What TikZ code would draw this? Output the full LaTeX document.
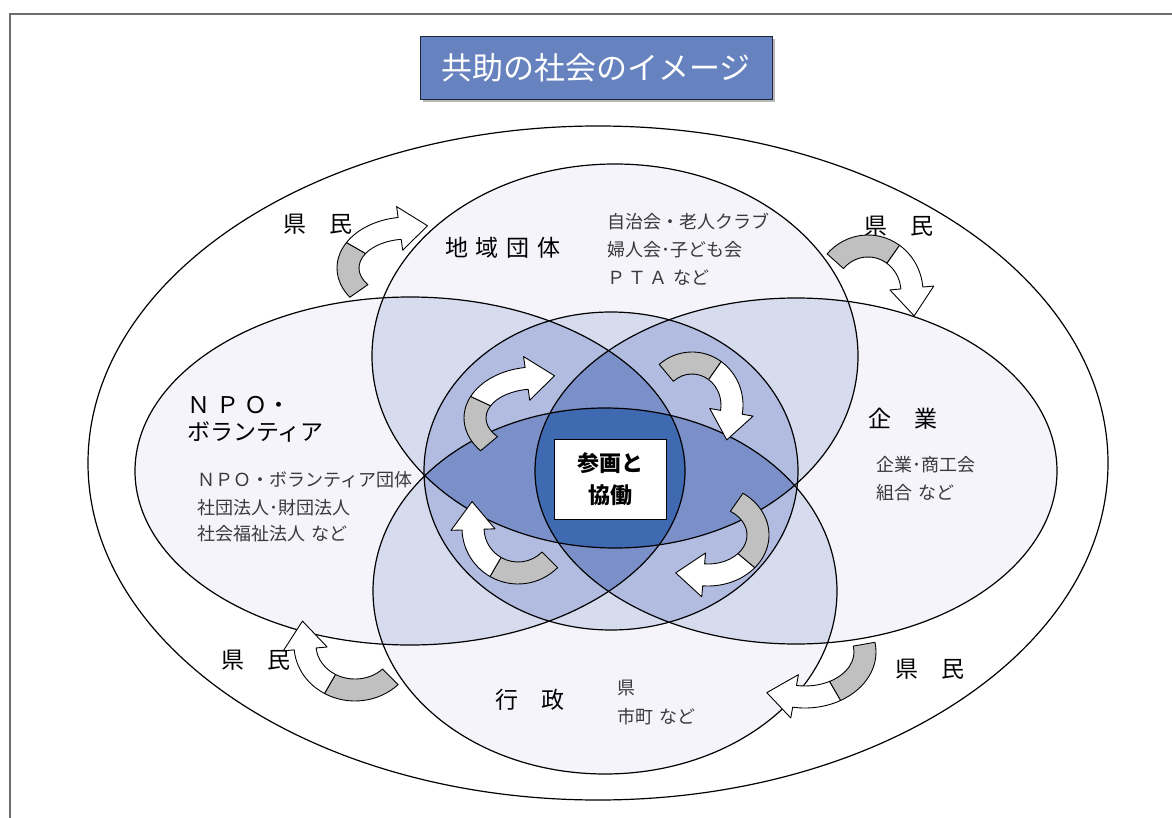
\documentclass[tikz,border=0pt]{standalone}
\usepackage{fontspec}
\setmainfont{Noto Sans CJK JP}
\definecolor{lvone}{HTML}{F4F4FA}
\definecolor{lvtwo}{HTML}{D6DBEE}
\definecolor{lvthree}{HTML}{B1BCE0}
\definecolor{lvfour}{HTML}{7B90C8}
\definecolor{lvfive}{HTML}{3F69B1}
\definecolor{titlefill}{HTML}{6683C0}
\definecolor{titleline}{HTML}{1F2638}
\definecolor{framegray}{HTML}{6E6E6E}
\definecolor{backgray}{HTML}{C0C0C0}
\definecolor{desc}{HTML}{3A3A3A}
\def\shT{(615,356) ellipse [x radius=243, y radius=192]}
\def\shB{(605,591) ellipse [x radius=232, y radius=183]}
\def\shL{(410,471) ellipse [x radius=275, y radius=174]}
\def\shR{(796,471) ellipse [x radius=261, y radius=173]}
\def\shC{(611,471) ellipse [x radius=187, y radius=159]}
\newcommand\regtwo[3]{\begin{scope}\clip #2;\fill[#1] #3;\end{scope}}
\newcommand\regthree[4]{\begin{scope}\clip #2;\clip #3;\fill[#1] #4;\end{scope}}
\newcommand\regfour[5]{\begin{scope}\clip #2;\clip #3;\clip #4;\fill[#1] #5;\end{scope}}
\newcommand\regfive[6]{\begin{scope}\clip #2;\clip #3;\clip #4;\clip #5;\fill[#1] #6;\end{scope}}
% curved block arrow: cx, cy, rx, ry, tail angle, colour change angle, head angle
\newcommand{\curvarrow}[7]{%
 \pgfmathsetmacro{\caXo}{#3+11}\pgfmathsetmacro{\caYo}{#4+11}%
 \pgfmathsetmacro{\caXi}{#3-11}\pgfmathsetmacro{\caYi}{#4-11}%
 \pgfmathsetmacro{\caXh}{#3+22}\pgfmathsetmacro{\caYh}{#4+22}%
 \pgfmathsetmacro{\caXk}{#3-22}\pgfmathsetmacro{\caYk}{#4-22}%
 \pgfmathsetmacro{\caTx}{-#3*sin(#7)}\pgfmathsetmacro{\caTy}{#4*cos(#7)}%
 \pgfmathsetmacro{\caTn}{sqrt(\caTx*\caTx+\caTy*\caTy)}%
 \pgfmathsetmacro{\caPx}{#1+#3*cos(#7)+28*\caTx/\caTn}%
 \pgfmathsetmacro{\caPy}{#2+#4*sin(#7)+28*\caTy/\caTn}%
 \filldraw[arrback] ({#1+\caXo*cos(#5)},{#2+\caYo*sin(#5)})
   arc[start angle=#5,end angle=#6,x radius=\caXo,y radius=\caYo]
   -- ({#1+\caXi*cos(#6)},{#2+\caYi*sin(#6)})
   arc[start angle=#6,end angle=#5,x radius=\caXi,y radius=\caYi] -- cycle;
 \filldraw[arrfront] ({#1+\caXo*cos(#6)},{#2+\caYo*sin(#6)})
   arc[start angle=#6,end angle=#7,x radius=\caXo,y radius=\caYo]
   -- ({#1+\caXh*cos(#7)},{#2+\caYh*sin(#7)})
   -- (\caPx,\caPy)
   -- ({#1+\caXk*cos(#7)},{#2+\caYk*sin(#7)})
   -- ({#1+\caXi*cos(#7)},{#2+\caYi*sin(#7)})
   arc[start angle=#7,end angle=#6,x radius=\caXi,y radius=\caYi] -- cycle;
}
\tikzset{
 outl/.style={draw=black, line width=1.2pt},
 arrback/.style={fill=backgray, draw=black, line width=0.9pt, line join=round},
 arrfront/.style={fill=white, draw=black, line width=0.9pt, line join=round},
 lbl/.style={font=\fontsize{23}{26}\selectfont, text=black, inner sep=0pt},
 dsc/.style={font=\fontsize{18}{22}\selectfont, text=desc, inner sep=0pt, anchor=west},
}
\begin{document}
\begin{tikzpicture}[x=1pt, y=-1pt]
\useasboundingbox (0,0) rectangle (1172,818);
\fill[white] (0,0) rectangle (1172,818);
% frame
\draw[framegray, line width=2pt] (10,818) -- (10,14) -- (1172,14);
% title
\fill[gray!55] (423,39) rectangle (775,102);
\node[draw=titleline, fill=titlefill, line width=0.9pt, minimum width=352pt, minimum height=63pt, inner sep=0pt, text=white, font=\fontsize{31}{34}\selectfont] (title) at (596,67.5) {共助の社会のイメージ};
% outer ellipse
\draw[outl, fill=white] (598,463) ellipse [x radius=510, y radius=337];
% level 1
\fill[lvone] \shT; \fill[lvone] \shB; \fill[lvone] \shL; \fill[lvone] \shR;
% level 2
\regtwo{lvtwo}{\shT}{\shB} \regtwo{lvtwo}{\shT}{\shL} \regtwo{lvtwo}{\shT}{\shR}
\regtwo{lvtwo}{\shT}{\shC} \regtwo{lvtwo}{\shB}{\shL} \regtwo{lvtwo}{\shB}{\shR}
\regtwo{lvtwo}{\shB}{\shC} \regtwo{lvtwo}{\shL}{\shR} \regtwo{lvtwo}{\shL}{\shC}
\regtwo{lvtwo}{\shR}{\shC}
% level 3
\regthree{lvthree}{\shT}{\shB}{\shL} \regthree{lvthree}{\shT}{\shB}{\shR}
\regthree{lvthree}{\shT}{\shB}{\shC} \regthree{lvthree}{\shT}{\shL}{\shR}
\regthree{lvthree}{\shT}{\shL}{\shC} \regthree{lvthree}{\shT}{\shR}{\shC}
\regthree{lvthree}{\shB}{\shL}{\shR} \regthree{lvthree}{\shB}{\shL}{\shC}
\regthree{lvthree}{\shB}{\shR}{\shC} \regthree{lvthree}{\shL}{\shR}{\shC}
% level 4
\regfour{lvfour}{\shT}{\shB}{\shL}{\shR} \regfour{lvfour}{\shT}{\shB}{\shL}{\shC}
\regfour{lvfour}{\shT}{\shB}{\shR}{\shC} \regfour{lvfour}{\shT}{\shL}{\shR}{\shC}
\regfour{lvfour}{\shB}{\shL}{\shR}{\shC}
% level 5
\regfive{lvfive}{\shT}{\shB}{\shL}{\shR}{\shC}
% outlines
\draw[outl] \shT; \draw[outl] \shB; \draw[outl] \shL; \draw[outl] \shR; \draw[outl] \shC;
% labels
\node[lbl] (kenTL) at (318,224) {県　民};
\node[lbl] (kenTR) at (899,226) {県　民};
\node[lbl] (kenBL) at (256,660) {県　民};
\node[lbl] (kenBR) at (930,669) {県　民};
\node[lbl] (chiiki) at (503,248) {地\hspace{8pt}域\hspace{8pt}団\hspace{8pt}体};
\node[lbl, anchor=west] (npoA) at (187,405) {Ｎ\kern6ptＰ\kern5ptＯ・};
\node[lbl, anchor=west] (npoB) at (187,432) {ボランティア};
\node[lbl] (kigyo) at (903,419) {企　業};
\node[lbl] (gyosei) at (530,700) {行　政};
% descriptions
\node[dsc] (dA) at (607,222) {自治会・老人クラブ};
\node[dsc] (dB) at (607,250) {婦人会･子ども会};
\node[dsc] (dC) at (607,278) {Ｐ\kern3ptＴ\kern3ptＡ\hspace{6pt}など};
\node[dsc] (nA) at (197,480) {ＮＰＯ・ボランティア団体};
\node[dsc] (nB) at (197,508) {社団法人･財団法人};
\node[dsc] (nC) at (197,534) {社会福祉法人\hspace{6pt}など};
\node[dsc] (kA) at (876,465) {企業･商工会};
\node[dsc] (kB) at (876,493) {組合\hspace{6pt}など};
\node[dsc] (gA) at (617,688) {県};
\node[dsc] (gB) at (617,717) {市町\hspace{6pt}など};
% arrows
\curvarrow{408}{268}{60}{40}{145}{210}{262}
\curvarrow{868}{292}{44}{46}{222}{305}{355}
\curvarrow{355}{645}{50}{45}{45}{120}{175}
\curvarrow{805}{652}{60}{45}{-10}{60}{100}
\curvarrow{535}{418}{60}{40}{140}{205}{262}
\curvarrow{692}{405}{40}{42}{230}{305}{370}
\curvarrow{518}{528}{45}{45}{45}{120}{178}
\curvarrow{708}{535}{50}{40}{-55}{40}{95}
% centre
\node[draw=black, fill=white, line width=0.9pt, minimum width=112pt, minimum height=80pt, inner sep=0pt, align=center, font=\bfseries\fontsize{22}{32}\selectfont] (core) at (610,479) {参画と\\協働};
\end{tikzpicture}
\end{document}
